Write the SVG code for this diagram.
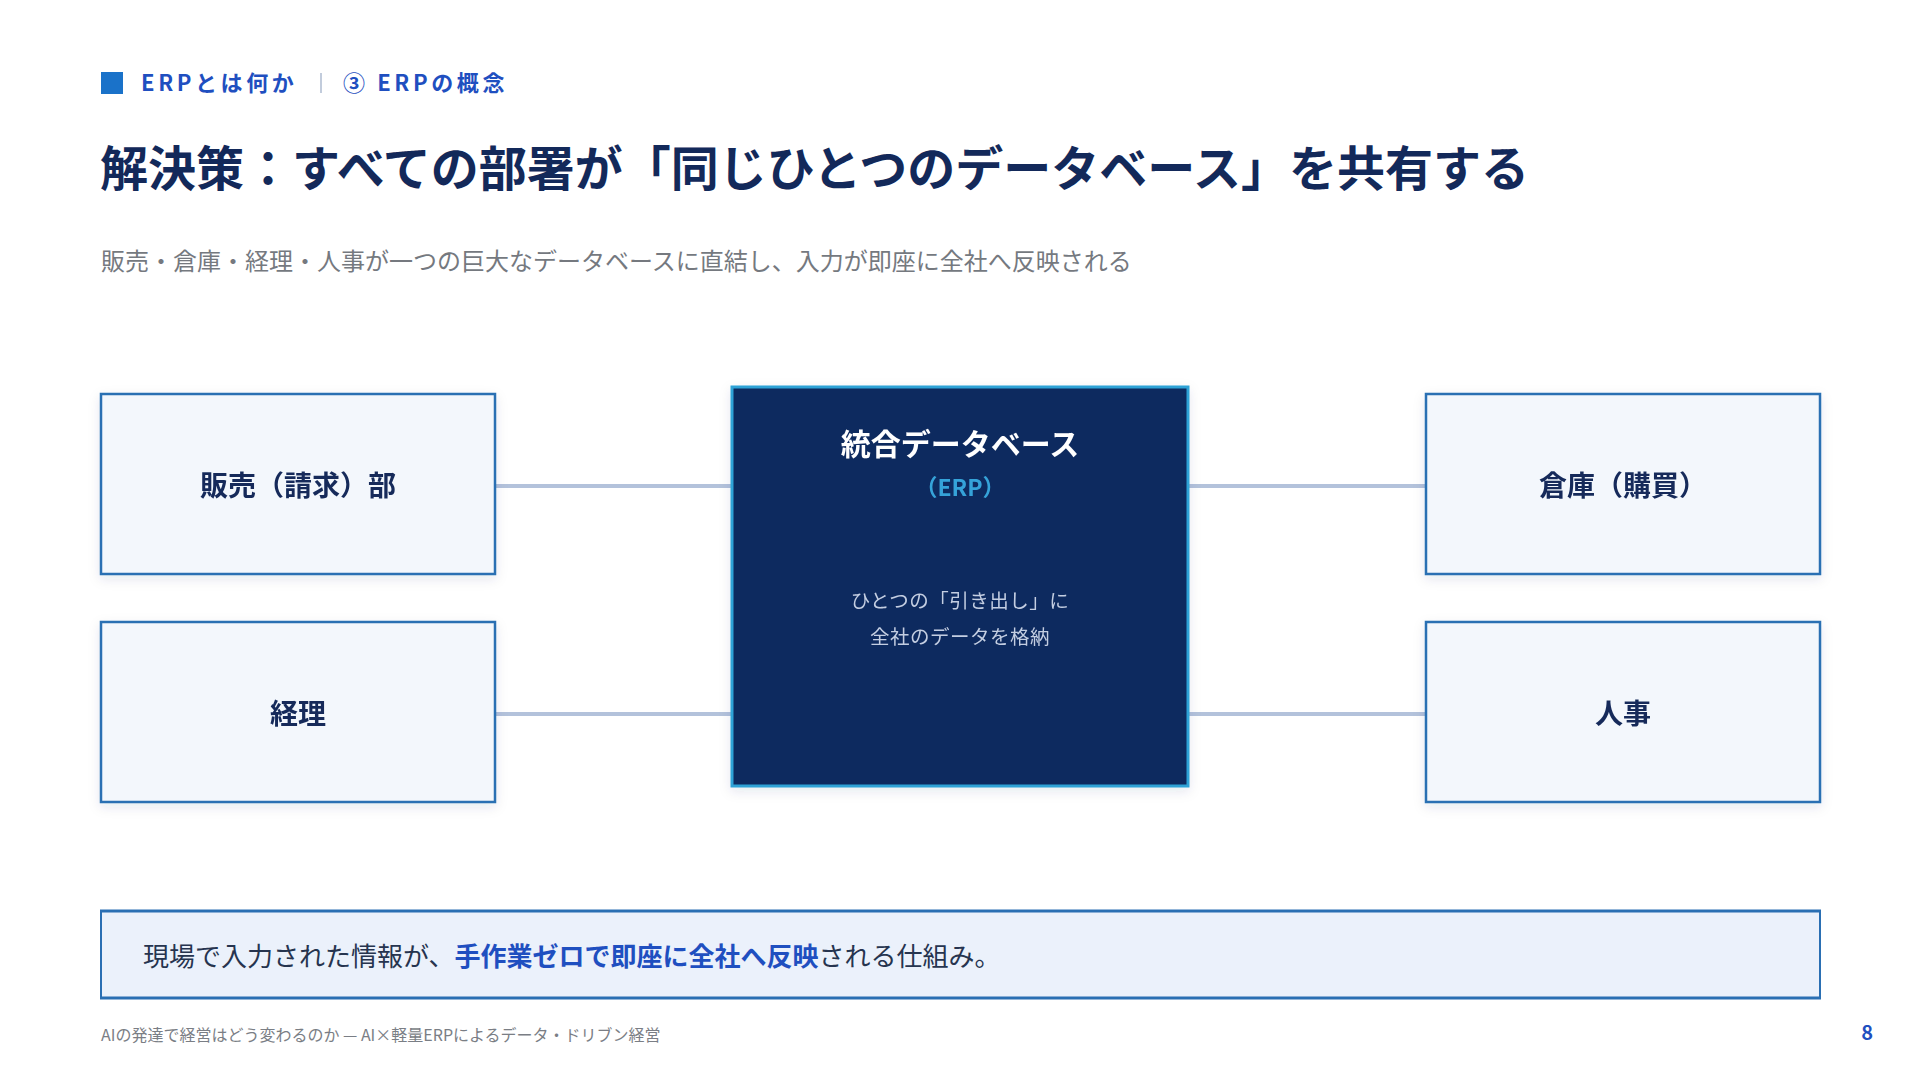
<svg xmlns="http://www.w3.org/2000/svg" width="1920" height="1080" viewBox="0 0 1920 1080">
<defs>
<filter id="sh" x="-10%" y="-10%" width="120%" height="130%">
<feDropShadow dx="0" dy="4" stdDeviation="6" flood-color="#0f2a5c" flood-opacity="0.10"/>
</filter>
<style>
text{font-family:"Noto Sans CJK JP","Noto Sans",sans-serif;}
.side rect{fill:#f3f7fc;stroke:#2a6fb3;stroke-width:2.5;}
.side text{font-size:28px;font-weight:700;fill:#13295a;text-anchor:middle;dominant-baseline:central;}
.conn{stroke:#b3c2db;stroke-width:4;}
.hdr{font-size:22px;font-weight:700;fill:#1f4fc0;letter-spacing:3.6px;}
</style>
</defs>
<rect width="1920" height="1080" fill="#ffffff"/>
<!-- header -->
<g id="header">
<rect x="101" y="72" width="22" height="22" fill="#1a72c9"/>
<text class="hdr" x="141" y="91">ERPとは何か</text>
<line x1="321" y1="73" x2="321" y2="93" stroke="#aebbd0" stroke-width="1.5"/>
<text class="hdr" x="343" y="91">③ ERPの概念</text>
</g>
<text id="title" x="100" y="186" font-size="48" font-weight="700" fill="#13295a">解決策：すべての部署が「同じひとつのデータベース」を共有する</text>
<text id="subtitle" x="101" y="270" font-size="24" fill="#75797f">販売・倉庫・経理・人事が一つの巨大なデータベースに直結し、入力が即座に全社へ反映される</text>
<!-- connectors -->
<g id="connectors">
<line class="conn" x1="495" y1="486" x2="731" y2="486"/>
<line class="conn" x1="495" y1="714" x2="731" y2="714"/>
<line class="conn" x1="1189" y1="486" x2="1425" y2="486"/>
<line class="conn" x1="1189" y1="714" x2="1425" y2="714"/>
</g>
<!-- side nodes -->
<g id="node-sales" class="side" filter="url(#sh)">
<rect x="101" y="394" width="394" height="180"/>
<text x="298" y="484">販売（請求）部</text>
</g>
<g id="node-accounting" class="side" filter="url(#sh)">
<rect x="101" y="622" width="394" height="180"/>
<text x="298" y="712">経理</text>
</g>
<g id="node-warehouse" class="side" filter="url(#sh)">
<rect x="1426" y="394" width="394" height="180"/>
<text x="1623" y="484">倉庫（購買）</text>
</g>
<g id="node-hr" class="side" filter="url(#sh)">
<rect x="1426" y="622" width="394" height="180"/>
<text x="1623" y="712">人事</text>
</g>
<!-- center node -->
<g id="node-erp" filter="url(#sh)">
<rect x="732" y="387" width="456" height="399" fill="#0f2a5e" stroke="#2ea2d6" stroke-width="3"/>
<text x="960" y="442" font-size="30" font-weight="700" fill="#ffffff" text-anchor="middle" dominant-baseline="central">統合データベース</text>
<text x="960" y="486" font-size="23" font-weight="700" fill="#36a3d9" text-anchor="middle" dominant-baseline="central">（ERP）</text>
<text x="960" y="599" font-size="19.5" fill="#c3cee2" text-anchor="middle" dominant-baseline="central" letter-spacing="0.5">ひとつの「引き出し」に</text>
<text x="960" y="635" font-size="19.5" fill="#c3cee2" text-anchor="middle" dominant-baseline="central" letter-spacing="0.5">全社のデータを格納</text>
</g>
<!-- bottom callout -->
<g id="callout">
<rect x="101" y="911" width="1719" height="87" fill="#ebf1fb" stroke="#2a6fb3" stroke-width="2"/>
<line x1="100" y1="911" x2="1821" y2="911" stroke="#2a6fb3" stroke-width="3"/>
<line x1="100" y1="998" x2="1821" y2="998" stroke="#2a6fb3" stroke-width="3"/>
<text x="143" y="954" font-size="26" fill="#26344f" dominant-baseline="central">現場で入力された情報が、<tspan font-weight="700" fill="#1f4fc0">手作業ゼロで即座に全社へ反映</tspan>される仕組み。</text>
</g>
<!-- footer -->
<text id="footer" x="101" y="1041" font-size="16" fill="#7a7e85">AIの発達で経営はどう変わるのか — AI×軽量ERPによるデータ・ドリブン経営</text>
<text id="page" x="1873" y="1040" font-size="20" font-weight="700" fill="#1f4fc0" text-anchor="end">8</text>
</svg>
